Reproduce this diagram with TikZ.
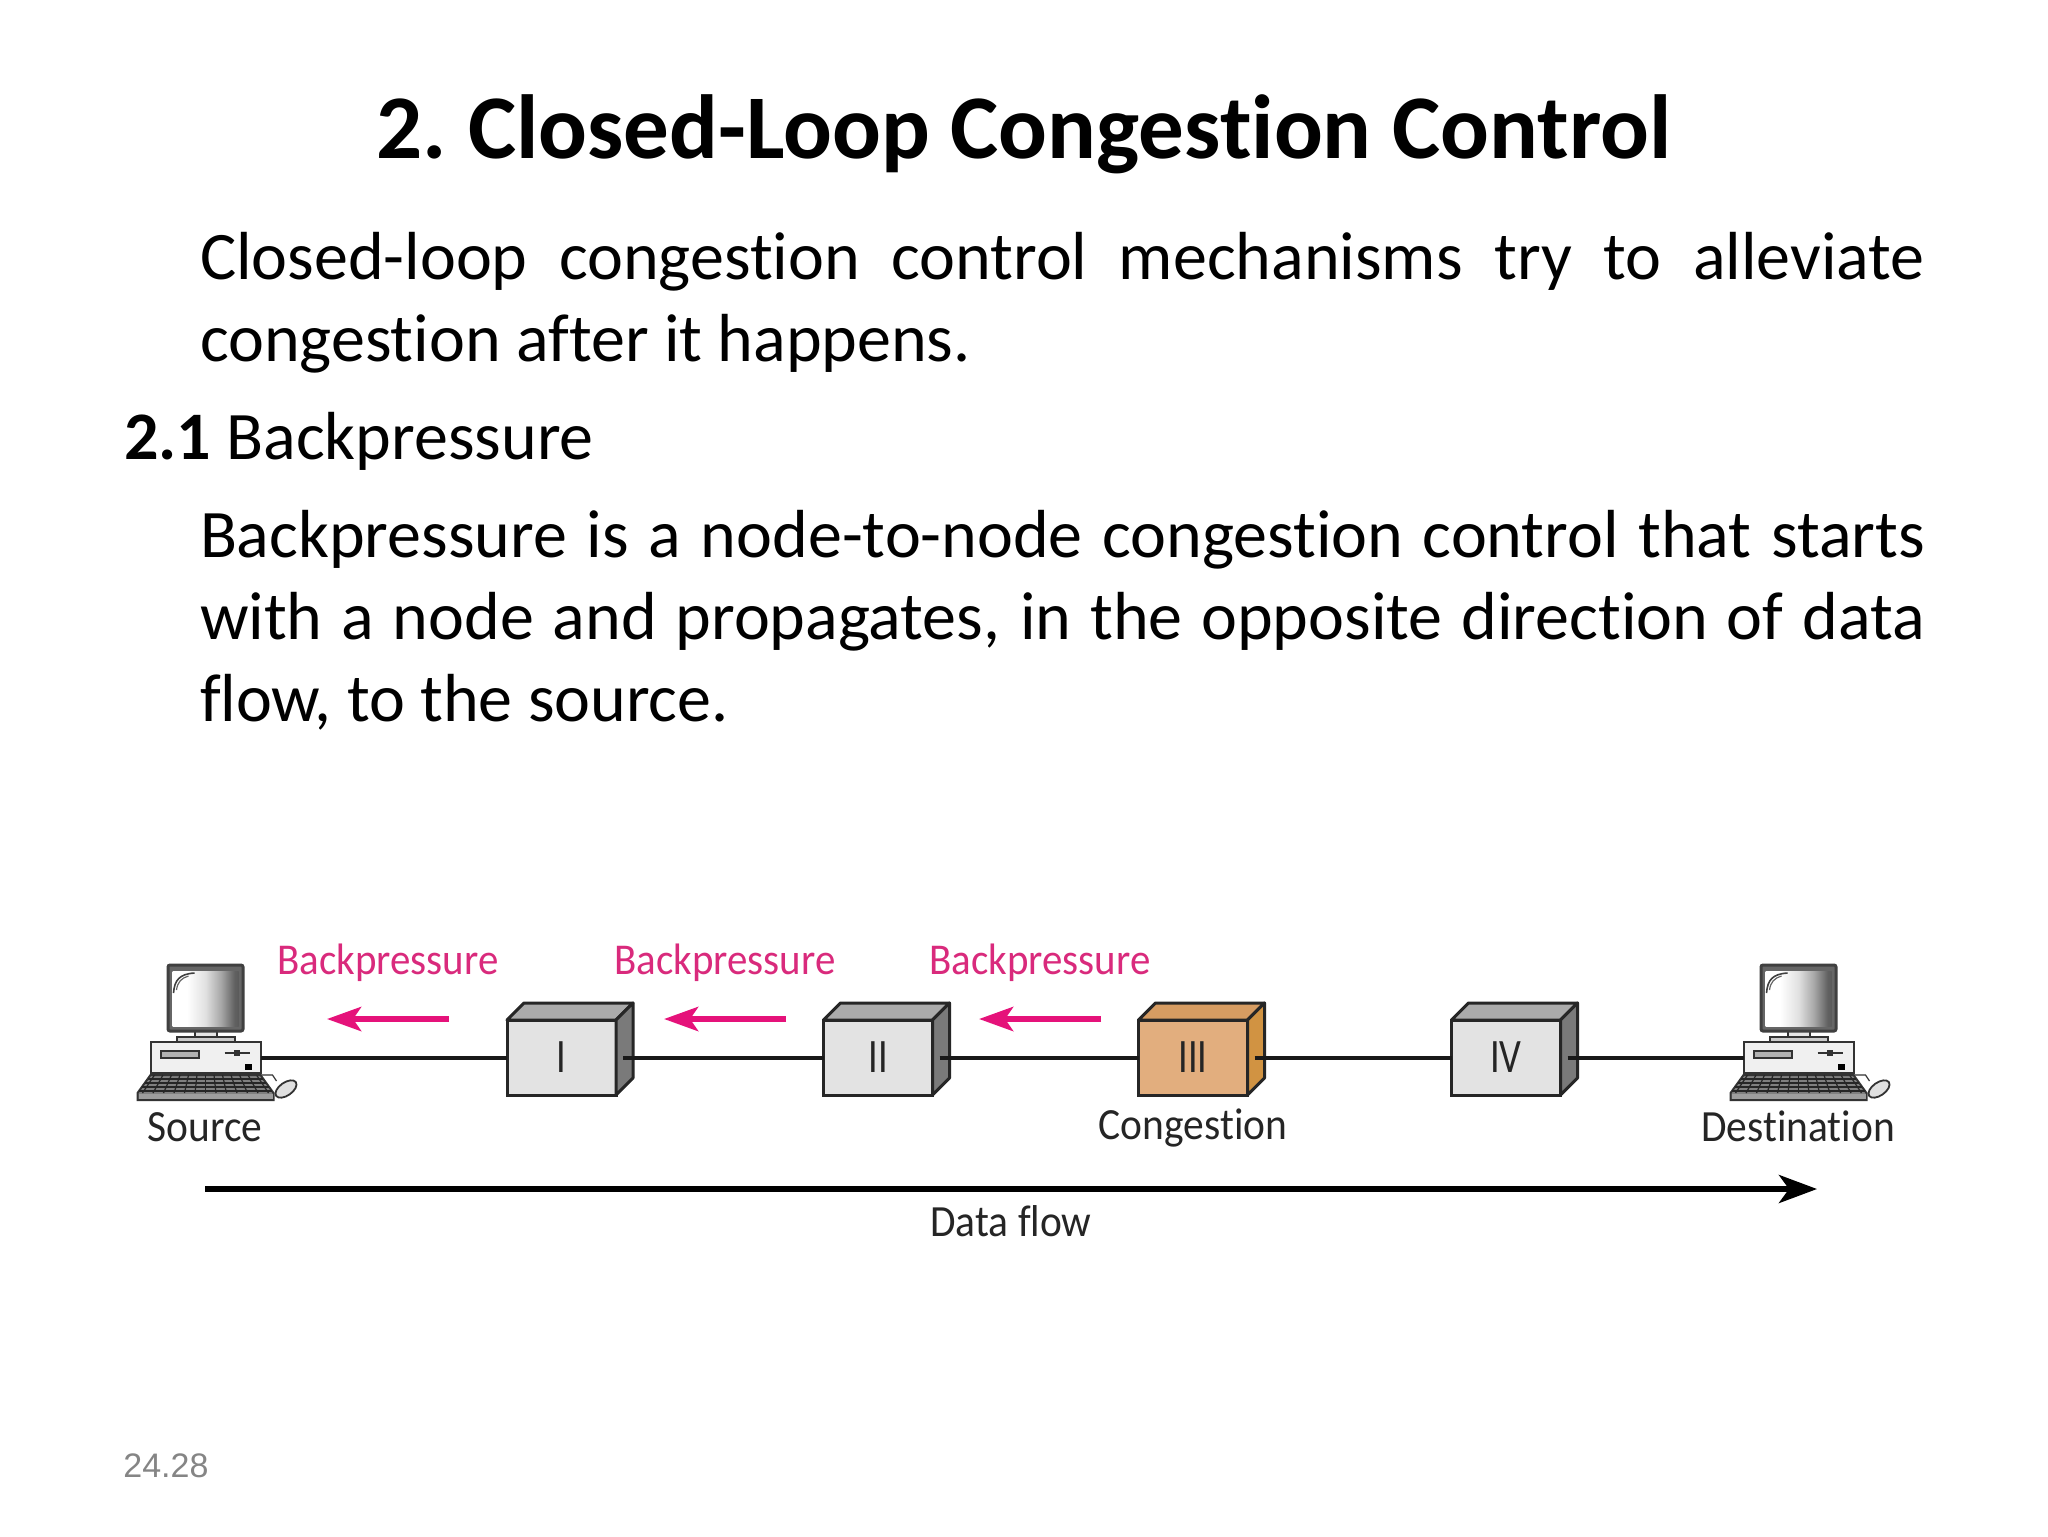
\documentclass[tikz,border=0pt]{standalone}
\usepackage{fontspec}
\setmainfont{Carlito}[Ligatures=NoCommon]
\newfontfamily\pagefont{Liberation Sans}
\newfontfamily\difffont{Carlito}[FakeStretch=0.93,Ligatures=NoCommon]
\newfontfamily\romanfont{Carlito}[FakeStretch=0.8]
\usetikzlibrary{arrows.meta,calc}
\pgfdeclarehorizontalshading{screenshade}{100bp}{color(0bp)=(white); color(36bp)=(white); color(50bp)=(black!12); color(62bp)=(black!35); color(72bp)=(black!62); color(100bp)=(black!85)}
\definecolor{pinkc}{HTML}{D92A7C}
\definecolor{pinka}{HTML}{E5127A}
\definecolor{inkc}{HTML}{252525}
\definecolor{ofront}{HTML}{E2AE7E}
\definecolor{otop}{HTML}{D69C62}
\definecolor{oside}{HTML}{D19342}
\tikzset{
  slidetext/.style={inner sep=0pt,outer sep=0pt,font=\fontsize{34}{41}\selectfont,text=black},
  para/.style={slidetext,anchor=north west,text width=862.5pt,align=justify},
  difflabel/.style={inner sep=0pt,outer sep=0pt,anchor=base,text=inkc,font=\difffont\fontsize{22.3}{24}\selectfont},
  bplabel/.style={difflabel,text=pinkc,font=\difffont\fontsize{22}{24}\selectfont},
  routerfront/.style={draw=black!85,line width=1.5pt,minimum width=54.5pt,minimum height=37.5pt,inner sep=0pt,outer sep=0pt,text=inkc,font=\romanfont\fontsize{24}{26}\selectfont},
  facetop/.style={draw=black!85,line width=1.5pt,line join=round},
  wire/.style={draw=black!90,line width=2pt},
  bparrow/.style={draw=pinka,line width=3pt,-{Stealth[length=17pt,width=12pt,inset=4pt]}},
  flowarrow/.style={draw=black,line width=2.8pt,-{Stealth[length=19pt,width=14pt,inset=5pt]}},
  pcpart/.style={draw=black!80,line width=1pt},
}
\newcommand{\routerbox}[6]{% name, x, label, front, top, side
  \node[routerfront,fill=#4] (#1) at (#2,1057.5) {#3};
  \filldraw[facetop,fill=#5] (#1.north west) -- ++(17,-17) -- ++(109,0) -- (#1.north east) -- cycle;
  \filldraw[facetop,fill=#6] (#1.north east) -- ++(17,-17) -- ++(0,75) -- (#1.south east) -- cycle;
  \coordinate (#1out) at ($(#1.east)+(7,0)$);
}
\newcommand{\computer}[2]{% name, monitor centre x
  \begin{scope}[shift={(#2,0)}]
    % stand
    \filldraw[pcpart,fill=black!10] (-11,1030) rectangle (11,1038);
    \filldraw[pcpart,fill=black!20] (-29,1037) rectangle (29,1042);
    % monitor
    \filldraw[draw=black!75,line width=1.5pt,fill=black!60,rounded corners=1pt] (-37.5,965) rectangle (37.5,1031);
    \shade[shading=screenshade] (-33,971) rectangle (33,1026);
    \draw[black!75,line width=.8pt] (-32,993) .. controls (-31,980) and (-26,974) .. (-11,973);
    \draw[black!60,line width=.6pt] (-29,990) .. controls (-28,982) and (-24,978) .. (-17,976);
    % keyboard
    \filldraw[pcpart,fill=black!50] (-55,1075) -- (55,1075) -- (68,1093) -- (68,1100) -- (-68,1100) -- (-68,1093) -- cycle;
    \fill[black!38] (-67,1094) rectangle (67,1099);
    \foreach \yy in {1079,1083,1087,1091}{\draw[black!85,line width=.6pt] ({-55-13*(\yy-1075)/18},\yy) -- ({55+13*(\yy-1075)/18},\yy);}
    \foreach \kk in {-6,...,6}{\draw[black!85,line width=.6pt] (\kk*8.5,1075) -- (\kk*10.5,1093);}
    % mouse
    \draw[black!80,line width=.6pt] (40,1073) -- (42,1075) -- (67,1075) -- (71,1081);
    \filldraw[pcpart,line width=.9pt,fill=black!12,rotate around={35:(80.5,1089)}] (80.5,1089) ellipse (12 and 6.5);
    % box
    \node[pcpart,line width=1pt,fill=black!6,minimum width=55pt,minimum height=15.5pt,inner sep=0pt,outer sep=0pt] (#1) at (0,1057.5) {};
    \filldraw[pcpart,line width=.8pt,fill=black!30] (-44.5,1051) rectangle (-6.5,1058);
    \draw[black!80,line width=1.2pt] (19,1053) -- (44,1053);
    \fill[black!80] (28,1050) rectangle (34,1056);
    \fill[black] (39.5,1064) rectangle (46.5,1070);
  \end{scope}
}
\begin{document}
\begin{tikzpicture}[x=0.5pt,y=-0.5pt]
\useasboundingbox (0,0) rectangle (2048,1536);
\fill[white] (0,0) rectangle (2048,1536);

\node[inner sep=0pt,anchor=base,font=\fontsize{45.5}{50}\selectfont\bfseries] (title) at (1024,158) {2.\hspace{-3.3pt} Closed-Loop Congestion Control};
\node[para] (p1) at (200,232.5) {Closed-loop congestion control mechanisms try to alleviate\linebreak congestion after it happens.};
\node[slidetext,anchor=base west] (h21) at (124,459) {\textbf{2.1} Backpressure};
\node[para] (p2) at (200,510.5) {Backpressure is a node-to-node congestion control that starts\linebreak with a node and propagates, in the opposite direction of data\linebreak flow, to the source.};

\computer{src}{205.5}
\computer{dst}{1798.5}

\routerbox{r1}{561.5}{I}{black!11}{black!33}{black!52}
\routerbox{r2}{878}{II}{black!11}{black!33}{black!52}
\routerbox{r3}{1193}{III}{ofront}{otop}{oside}
\routerbox{r4}{1506}{IV}{black!11}{black!33}{black!52}

\draw[wire] (src.east) -- (r1.west);
\draw[wire] (r1out) -- (r2.west);
\draw[wire] (r2out) -- (r3.west);
\draw[wire] (r3out) -- (r4.west);
\draw[wire] (r4out) -- (dst.west);

\node[bplabel] (bp1) at (388,974) {Backpressure};
\node[bplabel] (bp2) at (725,974) {Backpressure};
\node[bplabel] (bp3) at (1040,974) {Backpressure};
\coordinate (a1s) at (449,1019); \coordinate (a1e) at (327,1019);
\coordinate (a2s) at (786,1019); \coordinate (a2e) at (664,1019);
\coordinate (a3s) at (1101,1019); \coordinate (a3e) at (979,1019);
\draw[bparrow] (a1s) -- (a1e);
\draw[bparrow] (a2s) -- (a2e);
\draw[bparrow] (a3s) -- (a3e);

\node[difflabel] (lsrc) at (205,1141) {Source};
\node[difflabel] (lcong) at (1193,1139) {Congestion};
\node[difflabel] (ldst) at (1798,1141) {Destination};

\coordinate (fs) at (205,1189); \coordinate (fe) at (1817,1189);
\draw[flowarrow] (fs) -- (fe);
\node[difflabel] (lflow) at (1011,1236) {Data flow};

\node[inner sep=0pt,anchor=base west,text=black!48,font=\pagefont\fontsize{17}{20}\selectfont] (pg) at (123,1477) {24.28};
\end{tikzpicture}
\end{document}
